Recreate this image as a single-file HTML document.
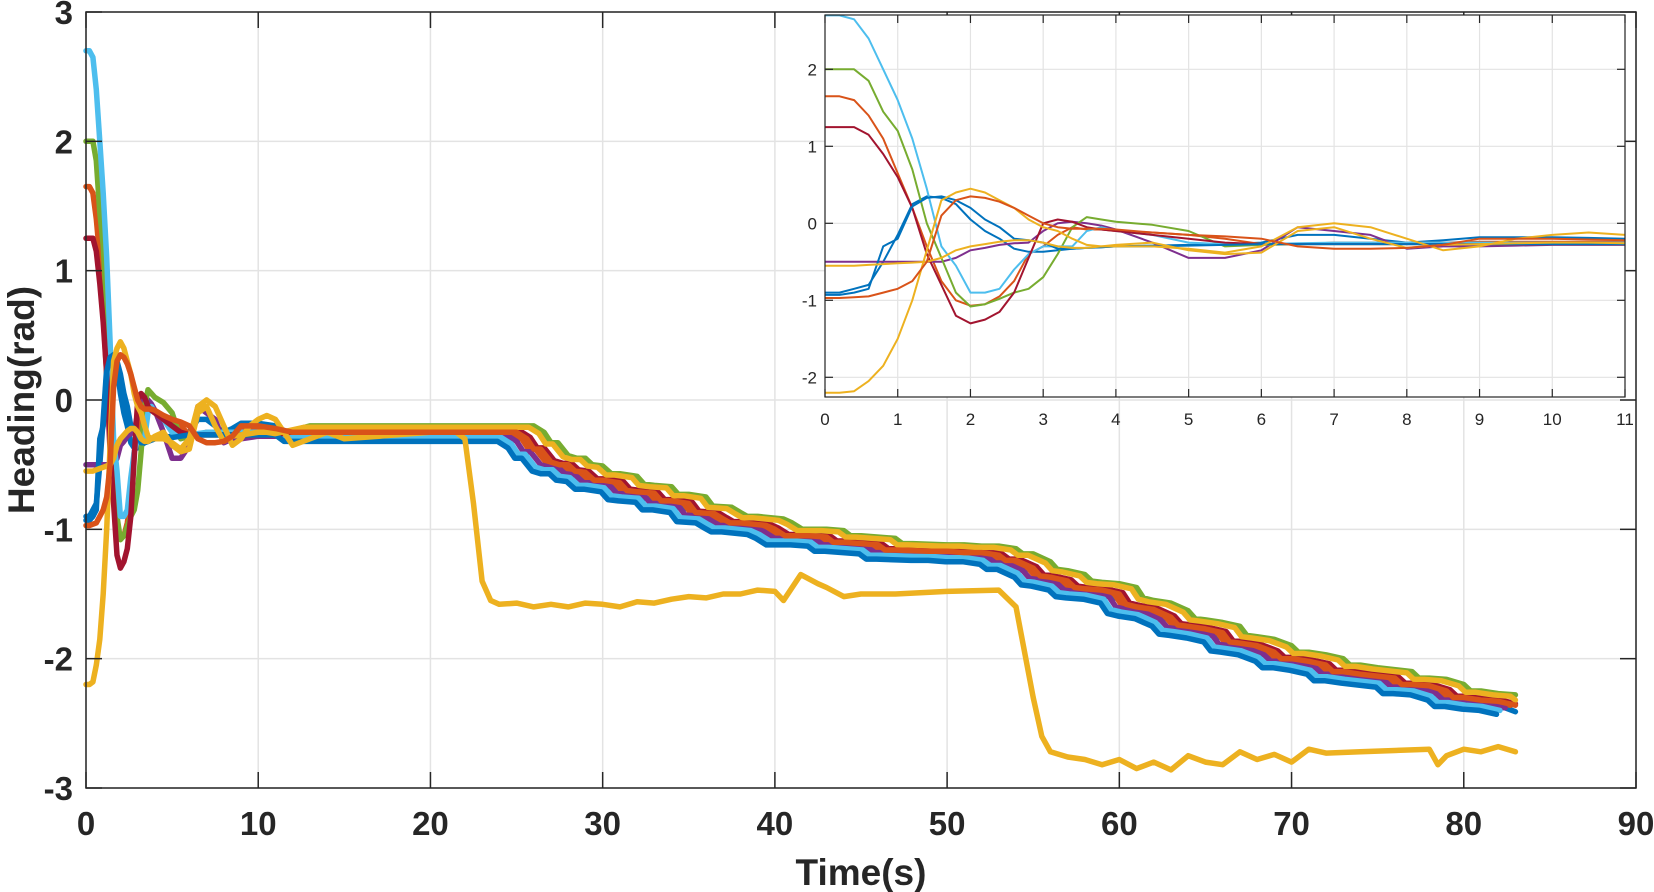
<!DOCTYPE html>
<html><head><meta charset="utf-8">
<style>
html,body{margin:0;padding:0;background:#fff;}
svg{display:block;font-family:"Liberation Sans",Arial,sans-serif;}
</style></head>
<body>
<svg id="chart" width="1654" height="892" viewBox="0 0 1654 892" xmlns="http://www.w3.org/2000/svg">
<rect width="1654" height="892" fill="#fff"/>
<g id="main"></g>
<g id="inset"></g>
</svg>
<script>
// ---- data ----
const colors = ["#0072BD","#D95319","#EDB120","#7E2F8E","#77AC30","#4DBEEE","#A2142F","#0072BD","#D95319","#EDB120"];
const tEarly = [0,0.2,0.4,0.6,0.8,1.0,1.2,1.4,1.6,1.8,2.0,2.2,2.4,2.6,2.8,3.0,3.2,3.4,3.6,3.8,4.0,4.5,5.0,5.5,6.0,6.5,7.0,7.5,8.0,8.5,9.0,9.5,10,10.5,11];
const sBlue1   = [-0.9,-0.9,-0.85,-0.8,-0.5,-0.15,0.25,0.35,0.33,0.25,0.05,-0.1,-0.2,-0.33,-0.37,-0.37,-0.35,-0.33,-0.32,-0.31,-0.3,-0.29,-0.28,-0.27,-0.25,-0.15,-0.15,-0.2,-0.25,-0.22,-0.18,-0.18,-0.18,-0.19,-0.2];
const sOrange1 = [1.65,1.65,1.6,1.4,1.1,0.65,0.2,-0.3,-0.75,-1.0,-1.07,-1.05,-0.95,-0.75,-0.4,-0.3,-0.15,-0.05,-0.08,-0.08,-0.1,-0.12,-0.15,-0.2,-0.27,-0.27,-0.25,-0.25,-0.25,-0.25,-0.24,-0.24,-0.24,-0.24,-0.24];
const sYellow1 = [-0.55,-0.55,-0.55,-0.54,-0.53,-0.52,-0.51,-0.5,-0.45,-0.35,-0.3,-0.27,-0.24,-0.22,-0.22,-0.25,-0.3,-0.32,-0.32,-0.3,-0.28,-0.25,-0.35,-0.4,-0.38,-0.1,-0.05,-0.2,-0.32,-0.28,-0.27,-0.26,-0.25,-0.25,-0.26];
const sPurple  = [-0.5,-0.5,-0.5,-0.5,-0.5,-0.5,-0.5,-0.5,-0.5,-0.45,-0.35,-0.32,-0.28,-0.26,-0.25,-0.1,0.0,0.02,0.0,-0.03,-0.08,-0.25,-0.45,-0.45,-0.35,-0.05,-0.1,-0.15,-0.33,-0.3,-0.3,-0.29,-0.28,-0.28,-0.28];
const sGreen   = [2.0,2.0,2.0,1.85,1.45,1.2,0.7,0.0,-0.45,-0.9,-1.08,-1.05,-0.98,-0.9,-0.85,-0.7,-0.4,-0.05,0.08,0.05,0.02,-0.02,-0.1,-0.3,-0.28,-0.27,-0.27,-0.27,-0.27,-0.27,-0.27,-0.27,-0.27,-0.27,-0.27];
const sLBlue   = [2.7,2.7,2.65,2.4,2.0,1.6,1.1,0.45,-0.3,-0.55,-0.9,-0.9,-0.85,-0.6,-0.4,-0.3,-0.3,-0.3,-0.1,-0.05,-0.1,-0.15,-0.25,-0.27,-0.27,-0.26,-0.25,-0.25,-0.25,-0.25,-0.25,-0.25,-0.25,-0.25,-0.25];
const sDRed    = [1.25,1.25,1.25,1.15,0.9,0.6,0.2,-0.4,-0.8,-1.2,-1.3,-1.25,-1.15,-0.9,-0.45,0.0,0.05,0.02,-0.05,-0.08,-0.1,-0.15,-0.2,-0.25,-0.27,-0.27,-0.27,-0.27,-0.27,-0.27,-0.27,-0.27,-0.27,-0.27,-0.27];
const sBlue2   = [-0.93,-0.93,-0.9,-0.85,-0.3,-0.2,0.22,0.33,0.35,0.3,0.2,0.05,-0.05,-0.2,-0.22,-0.25,-0.33,-0.33,-0.32,-0.31,-0.3,-0.3,-0.29,-0.28,-0.27,-0.27,-0.27,-0.27,-0.27,-0.27,-0.27,-0.27,-0.27,-0.27,-0.27];
const sOrange2 = [-0.97,-0.97,-0.96,-0.95,-0.9,-0.85,-0.75,-0.5,0.1,0.3,0.35,0.33,0.28,0.2,0.1,0.0,-0.05,-0.07,-0.07,-0.07,-0.08,-0.12,-0.15,-0.17,-0.2,-0.3,-0.33,-0.33,-0.32,-0.28,-0.2,-0.2,-0.2,-0.21,-0.22];
const sYellow2 = [-2.2,-2.2,-2.18,-2.05,-1.85,-1.5,-1.0,-0.35,0.3,0.4,0.45,0.4,0.3,0.2,0.05,-0.05,-0.1,-0.2,-0.28,-0.3,-0.3,-0.3,-0.33,-0.38,-0.3,-0.05,0.0,-0.05,-0.2,-0.35,-0.3,-0.2,-0.15,-0.12,-0.15];
const earlySeries = [sBlue1,sOrange1,sYellow1,sPurple,sGreen,sLBlue,sDRed,sBlue2,sOrange2,sYellow2];

const trendT = [12,25,25.6,26,26.4,27,27.5,28,28.4,29,29.5,30,31,31.4,32,33,33.4,34,35,35.4,36.5,37,37.4,38,39.5,40,40.6,42,43,43.4,44,46,46.4,47,49,50,51,52,53,53.4,54,55,55.4,56,57,57.4,58,59,60,60.4,61,62,63,63.4,64,65,66,66.4,67,68,69,69.4,70,71,72,72.4,73,74,76,76.4,77,78,79,79.4,80,81,82,83];
const trendV = [-0.25,-0.25,-0.3,-0.38,-0.38,-0.48,-0.5,-0.5,-0.55,-0.56,-0.62,-0.62,-0.64,-0.7,-0.71,-0.72,-0.78,-0.78,-0.8,-0.87,-0.88,-0.92,-0.95,-0.95,-0.97,-1.0,-1.05,-1.05,-1.06,-1.1,-1.1,-1.12,-1.16,-1.16,-1.17,-1.17,-1.18,-1.18,-1.2,-1.24,-1.24,-1.3,-1.36,-1.37,-1.4,-1.45,-1.46,-1.47,-1.5,-1.58,-1.6,-1.62,-1.68,-1.74,-1.75,-1.77,-1.8,-1.87,-1.88,-1.9,-1.95,-2.0,-2.0,-2.02,-2.05,-2.1,-2.1,-2.12,-2.15,-2.2,-2.2,-2.21,-2.25,-2.3,-2.3,-2.32,-2.33,-2.36];
const trendOffsets = [-0.05,0.0,0.04,-0.02,0.05,-0.04,0.01,-0.07,0.0];
const trendLags = [0.4,-0.3,0.7,-0.6,1.0,-0.9,0.2,-1.1,0.0];

const y2T = [12,13,14,15,17,20,21.5,22,22.5,23,23.5,24,25,26,27,28,29,30,31,32,33,34,35,36,37,38,39,40,40.5,41.5,42.5,43,44,45,47,50,53,54,55,55.5,56,57,58,59,60,61,62,63,64,65,66,67,68,69,70,71,72,74,76,78,78.5,79,80,81,82,83];
const y2V = [-0.35,-0.3,-0.25,-0.3,-0.28,-0.25,-0.25,-0.3,-0.8,-1.4,-1.55,-1.58,-1.57,-1.6,-1.58,-1.6,-1.57,-1.58,-1.6,-1.56,-1.57,-1.54,-1.52,-1.53,-1.5,-1.5,-1.47,-1.48,-1.55,-1.35,-1.42,-1.45,-1.52,-1.5,-1.5,-1.48,-1.47,-1.6,-2.3,-2.6,-2.72,-2.76,-2.78,-2.82,-2.78,-2.85,-2.8,-2.86,-2.75,-2.8,-2.82,-2.72,-2.78,-2.74,-2.8,-2.7,-2.73,-2.72,-2.71,-2.7,-2.82,-2.75,-2.7,-2.72,-2.68,-2.72];

const mainXTicks = [0,10,20,30,40,50,60,70,80,90];
const mainYTicks = [-3,-2,-1,0,1,2,3];
const insetXTicks = [0,1,2,3,4,5,6,7,8,9,10,11];
const insetYTicks = [-2,-1,0,1,2];

// ---- helpers ----
const NS = "http://www.w3.org/2000/svg";
function mk(tag, attrs, parent){const e=document.createElementNS(NS,tag);for(const k in attrs)e.setAttribute(k,attrs[k]);parent.appendChild(e);return e;}

// main axes
const M = {l:86,r:1636,t:12,b:788,x0:0,x1:90,y0:-3,y1:3};
const mx = v => M.l + (v-M.x0)/(M.x1-M.x0)*(M.r-M.l);
const my = v => M.b - (v-M.y0)/(M.y1-M.y0)*(M.b-M.t);
const gM = document.getElementById("main");
mainXTicks.forEach(v=>{
  const g=mk("line",{x1:mx(v),x2:mx(v),y1:M.t,y2:M.b,stroke:"#e3e3e3","stroke-width":1.5},gM);
  
  
});
mainYTicks.forEach(v=>{
  const g=mk("line",{x1:M.l,x2:M.r,y1:my(v),y2:my(v),stroke:"#e3e3e3","stroke-width":1.5},gM);
  
  
});
function pathFrom(ts,vs,fx,fy){let d="";ts.forEach((t,i)=>{d+=(i?"L":"M")+fx(t).toFixed(1)+" "+fy(vs[i]).toFixed(1);});return d;}
const drawOrder=[0,1,3,4,5,6,7,2,9,8];
drawOrder.forEach(i=>{
  let ts=tEarly.slice(), vs=earlySeries[i].slice();
  if(i===9){ts=ts.concat(y2T);vs=vs.concat(y2V);}
  else{
    const o=trendOffsets[i]||0, lag=trendLags[i]||0;
    trendT.forEach((t,k)=>{const tt=Math.min(83,Math.max(11.5,t+lag));if(tt>ts[ts.length-1]){ts.push(tt);vs.push(trendV[k]+o);}});
  }
  const p=mk("path",{d:pathFrom(ts,vs,mx,my),fill:"none",stroke:colors[i],"stroke-width":5.5,"stroke-linejoin":"round","stroke-linecap":"round"},gM);
  
  
});
const frame=mk("rect",{x:M.l,y:M.t,width:M.r-M.l,height:M.b-M.t,fill:"none",stroke:"#262626","stroke-width":1.5},gM);


mainXTicks.forEach(v=>{
  mk("line",{x1:mx(v),x2:mx(v),y1:M.b,y2:M.b-16,stroke:"#262626","stroke-width":1.5},gM);
  mk("line",{x1:mx(v),x2:mx(v),y1:M.t,y2:M.t+16,stroke:"#262626","stroke-width":1.5},gM);
  const t=mk("text",{x:mx(v),y:835,"text-anchor":"middle","font-size":33,"font-weight":"bold",fill:"#262626"},gM);
  t.textContent=v;
  
  
});
mainYTicks.forEach(v=>{
  mk("line",{x1:M.l,x2:M.l+16,y1:my(v),y2:my(v),stroke:"#262626","stroke-width":1.5},gM);
  mk("line",{x1:M.r,x2:M.r-16,y1:my(v),y2:my(v),stroke:"#262626","stroke-width":1.5},gM);
  const t=mk("text",{x:73,y:my(v)+12,"text-anchor":"end","font-size":33,"font-weight":"bold",fill:"#262626"},gM);
  t.textContent=v;
  
  
});
const xt=mk("text",{x:861,y:885,"text-anchor":"middle","font-size":37,"font-weight":"bold",fill:"#262626"},gM);
xt.textContent="Time(s)";


const yt=mk("text",{x:0,y:0,transform:"translate(34,400) rotate(-90)","text-anchor":"middle","font-size":37,"font-weight":"bold",fill:"#262626"},gM);
yt.textContent="Heading(rad)";



// inset axes
const I = {l:825,r:1625,t:15,b:397,x0:0,x1:11,y0:-2.25,y1:2.7};
const ix = v => I.l + (v-I.x0)/(I.x1-I.x0)*(I.r-I.l);
const iy = v => 223.3 - v*77;
const gI = document.getElementById("inset");
const bg=mk("rect",{x:I.l,y:I.t,width:I.r-I.l,height:I.b-I.t,fill:"#fff"},gI);


insetXTicks.forEach(v=>{
  mk("line",{x1:ix(v),x2:ix(v),y1:I.t,y2:I.b,stroke:"#e3e3e3","stroke-width":1.2},gI);
});
insetYTicks.forEach(v=>{
  mk("line",{x1:I.l,x2:I.r,y1:iy(v),y2:iy(v),stroke:"#e3e3e3","stroke-width":1.2},gI);
});
drawOrder.forEach(i=>{
  const p=mk("path",{d:pathFrom(tEarly,earlySeries[i],ix,iy),fill:"none",stroke:colors[i],"stroke-width":2,"stroke-linejoin":"round"},gI);
  
  
});
const ifr=mk("rect",{x:I.l,y:I.t,width:I.r-I.l,height:I.b-I.t,fill:"none",stroke:"#262626","stroke-width":1.2},gI);


insetXTicks.forEach(v=>{
  mk("line",{x1:ix(v),x2:ix(v),y1:I.b,y2:I.b-8,stroke:"#262626","stroke-width":1.2},gI);
  mk("line",{x1:ix(v),x2:ix(v),y1:I.t,y2:I.t+8,stroke:"#262626","stroke-width":1.2},gI);
  const t=mk("text",{x:ix(v),y:425,"text-anchor":"middle","font-size":17,fill:"#262626"},gI);
  t.textContent=v;
  
  
});
insetYTicks.forEach(v=>{
  mk("line",{x1:I.l,x2:I.l+8,y1:iy(v),y2:iy(v),stroke:"#262626","stroke-width":1.2},gI);
  mk("line",{x1:I.r,x2:I.r-8,y1:iy(v),y2:iy(v),stroke:"#262626","stroke-width":1.2},gI);
  const t=mk("text",{x:817,y:iy(v)+6,"text-anchor":"end","font-size":17,fill:"#262626"},gI);
  t.textContent=v;
  
  
});
</script>
</body></html>
